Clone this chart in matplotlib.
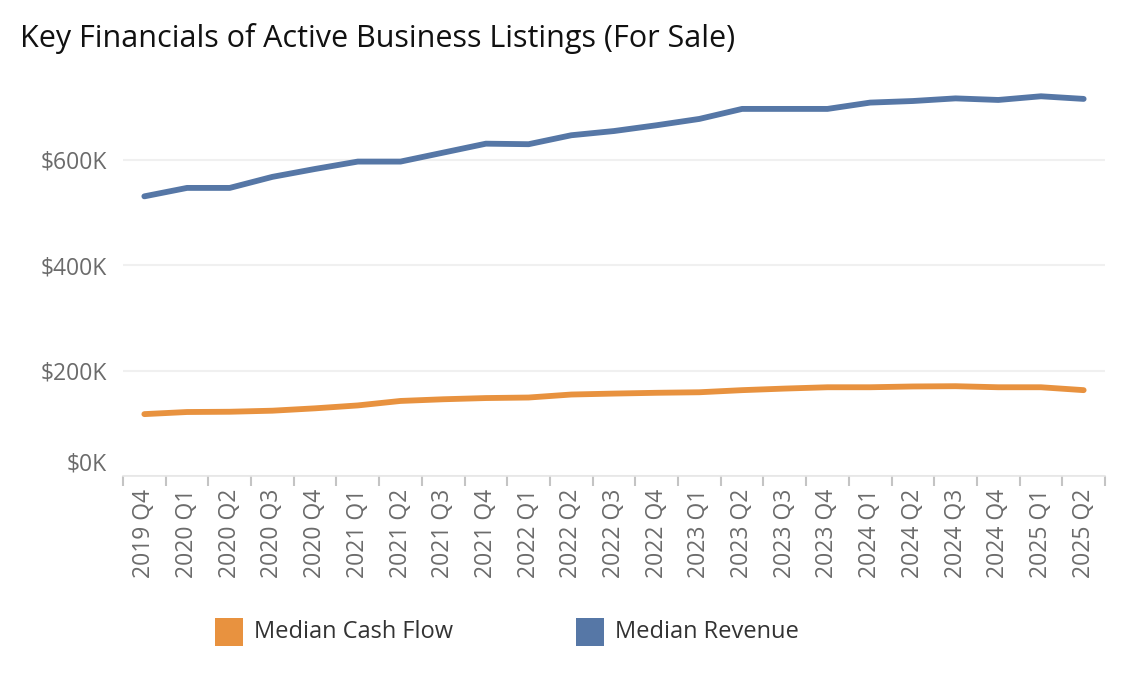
import matplotlib.pyplot as plt
from matplotlib.patches import Rectangle
from matplotlib.ticker import FixedLocator, FuncFormatter
import matplotlib.transforms as mtransforms

plt.rcParams['font.family'] = ['Open Sans', 'DejaVu Sans']

quarters = ['2019 Q4',
            '2020 Q1', '2020 Q2', '2020 Q3', '2020 Q4',
            '2021 Q1', '2021 Q2', '2021 Q3', '2021 Q4',
            '2022 Q1', '2022 Q2', '2022 Q3', '2022 Q4',
            '2023 Q1', '2023 Q2', '2023 Q3', '2023 Q4',
            '2024 Q1', '2024 Q2', '2024 Q3', '2024 Q4',
            '2025 Q1', '2025 Q2']

# median revenue ($)
median_revenue = [531000, 547000, 547000, 568000, 583000,
                  597000, 597000, 614000, 631000, 630000,
                  647000, 655000, 666000, 678000, 697000,
                  697000, 697000, 709000, 712000, 717000,
                  714000, 721000, 716000]

# median cash flow ($)
median_cash_flow = [117500, 121500, 122000, 124000, 128500,
                    134000, 142500, 145700, 148000, 149000,
                    154700, 156500, 158000, 159000, 163000,
                    166000, 168500, 168500, 170000, 170500,
                    168500, 168500, 163000]

series_names = ['Median Cash Flow', 'Median Revenue']

BLUE = '#5677a6'
ORANGE = '#e8923f'
GREY = '#6b6b6b'

W, H = 1126, 680
fig = plt.figure(figsize=(W / 100, H / 100), dpi=100)
ax = fig.add_axes([123 / W, 1 - 476 / H, 982 / W, 395 / H])

x = list(range(len(quarters)))
ax.plot(x, median_revenue, color=BLUE, lw=4.2, solid_capstyle='round', solid_joinstyle='round')
ax.plot(x, median_cash_flow, color=ORANGE, lw=4.2, solid_capstyle='round', solid_joinstyle='round')

ax.set_xlim(-0.5, len(quarters) - 0.5)
ax.set_ylim(0, 750000)

# y axis
ax.yaxis.set_major_locator(FixedLocator([0, 200000, 400000, 600000]))
ax.yaxis.set_major_formatter(FuncFormatter(lambda v, p: f'${v / 1000:.0f}K'))
ax.tick_params(axis='y', length=0, pad=11.5, labelsize=16.5, labelcolor=GREY)
ax.grid(axis='y', color='#f0f0f0', lw=1.5)
ax.set_axisbelow(True)

# $0K label sits above the baseline (tableau style)
for lbl in ax.get_yticklabels():
    if lbl.get_text() == '$0K':
        lbl.set_transform(lbl.get_transform() +
                          mtransforms.ScaledTranslation(0, 15 / 100, fig.dpi_scale_trans))

# x axis: labels at centers, tick marks at boundaries
ax.set_xticks(x)
ax.set_xticklabels(quarters, rotation=90)
ax.tick_params(axis='x', which='major', length=0, pad=9, labelsize=16.5, labelcolor=GREY)
ax.set_xticks([i - 0.5 for i in range(len(quarters) + 1)], minor=True)
ax.tick_params(axis='x', which='minor', length=7, width=1.5, color='#c4c4c4')

for side in ['top', 'right', 'left']:
    ax.spines[side].set_visible(False)
ax.spines['bottom'].set_color('#e6e6e6')
ax.spines['bottom'].set_linewidth(1.2)

fig.text(20 / W, 1 - 38 / H, 'Key Financials of Active Business Listings (For Sale)',
         fontsize=22, color='#111111', va='center', ha='left')

# legend, drawn by hand
for sq_x, txt_x, color, name in [(215, 254, ORANGE, series_names[0]),
                                 (576, 615, BLUE, series_names[1])]:
    fig.patches.append(Rectangle((sq_x / W, 1 - 646 / H), 28 / W, 28 / H,
                                 transform=fig.transFigure, facecolor=color,
                                 edgecolor='none'))
    fig.text(txt_x / W, 1 - 632 / H, name, fontsize=17, color='#333333',
             va='center', ha='left')

fig.savefig('out.png', dpi=100)
